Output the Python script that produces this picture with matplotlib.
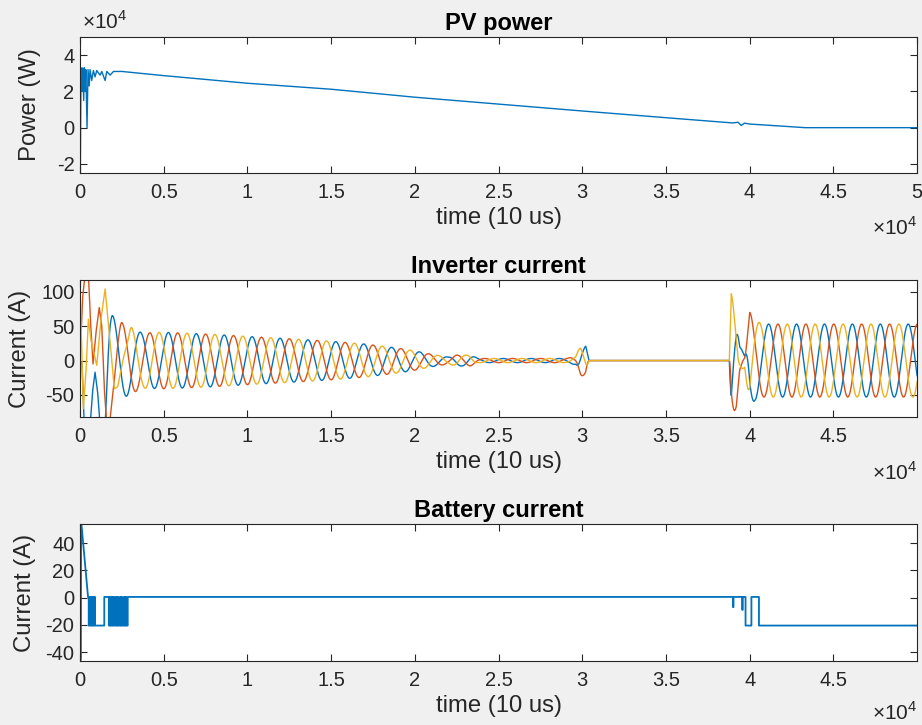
import numpy as np
import matplotlib
matplotlib.use('Agg')
import matplotlib.pyplot as plt
from matplotlib.ticker import FuncFormatter

plt.rcParams['font.family'] = ['Liberation Sans', 'DejaVu Sans']
plt.rcParams['mathtext.fontset'] = 'custom'
plt.rcParams['mathtext.rm'] = 'Liberation Sans'
plt.rcParams['axes.unicode_minus'] = False

# ---------------- data (time in units of 1e4 samples of 10 us) ----------------
# PV power (units of 1e4 W)
pv_t = [0, 0.002, 0.006, 0.012, 0.016, 0.022, 0.026, 0.03, 0.035, 0.042, 0.048, 0.055,
        0.06, 0.07, 0.08, 0.09, 0.10, 0.12, 0.13, 0.15, 0.16, 0.18, 0.20, 0.25, 0.5,
        1.0, 1.5, 2.0, 2.5, 3.0, 3.23, 3.5, 3.9, 3.93, 3.95, 3.97, 4.0, 4.3, 4.33, 5.0]
pv_p = [3.6, -2.6, 3.3, 2.0, 3.3, 1.5, 3.3, 2.0, 3.2, 0.0, 3.2, 2.3,
        3.2, 2.6, 3.15, 2.8, 3.15, 2.9, 3.1, 2.6, 3.1, 2.9, 3.1, 3.1, 2.87,
        2.45, 2.12, 1.68, 1.3, 0.92, 0.75, 0.55, 0.26, 0.3, 0.12, 0.25, 0.2, 0.02, 0.0, 0.0]

# Inverter current: 60 Hz three-phase, amplitude envelope
period = 0.1667           # one grid cycle (x 1e4 samples)
phase_ref_1 = 0.028       # first peak of phase A before disconnection
phase_ref_2 = 4.113       # first peak of phase A after reconnection
switch_t = 3.5
env_t = [0, 0.19, 0.25, 0.31, 0.37, 0.5, 0.8, 1.0, 1.3, 1.5, 1.7, 1.9, 2.0, 2.1, 2.2,
         2.25, 2.33, 2.38, 2.9, 2.96, 2.99, 3.02, 3.04, 3.878, 3.89, 3.92, 3.94, 3.97,
         4.0, 4.03, 4.08, 5.0]
env_a = [66, 66, 55, 48, 40, 41, 38, 35, 31, 28, 24, 18, 14, 9, 5,
         8, 8, 3, 3, 6, 22, 22, 0, 0, 97, 66, 20, 10,
         70, 58, 53, 53]
# start-up transient of each phase
ia_start_t = [0, 0.012, 0.025, 0.06, 0.075, 0.09, 0.105, 0.12, 0.15, 0.165, 0.18, 0.194]
ia_start_v = [0, -5, -95, -95, -45, -17, -45, -95, -95, -10, 45, 66]
ib_start_t = [0, 0.015, 0.03, 0.05, 0.062, 0.078, 0.095, 0.115, 0.13, 0.145, 0.16, 0.175,
              0.2, 0.225, 0.25]
ib_start_v = [0, 90, 125, 125, 60, -5, 40, 77, 50, -40, -95, -95, -40, 20, 55]
ic_start_t = [0, 0.008, 0.02, 0.035, 0.05, 0.065, 0.1, 0.125, 0.15, 0.175, 0.205, 0.225,
              0.26, 0.31]
ic_start_v = [100, 40, -70, -20, 60, 30, -7, 60, 104, 40, -41, -38, 5, 48]

# Battery current (A)
bat_init_t = [0, 0.003, 0.007, 0.048]
bat_init_v = [54, -46, 56, 0.5]
bat_hi = 0.5
bat_lo = -20.5
bat_low_start = [0.052, 0.062, 0.072, 0.080, 0.090, 0.172, 0.182, 0.194, 0.205, 0.218,
                 0.228, 0.242, 0.252, 0.266, 0.276, 3.975, 4.055]
bat_low_end = [0.058, 0.068, 0.076, 0.085, 0.145, 0.178, 0.190, 0.200, 0.214, 0.224,
               0.238, 0.248, 0.262, 0.272, 0.285, 4.010, 5.0]
bat_dip_t = [3.900, 3.955]
bat_dip_v = [-7, -9]

# ---------------- build traces ----------------
t = np.arange(0, 50000, 5.0)
tu = t / 1e4
env = np.interp(tu, env_t, env_a)
ref = np.where(tu < switch_t, phase_ref_1, phase_ref_2)
phases = []
for k, (kt, kv) in enumerate([(ia_start_t, ia_start_v), (ib_start_t, ib_start_v),
                              (ic_start_t, ic_start_v)]):
    wave = env * np.cos(2 * np.pi * (tu - ref - k * period / 3) / period)
    kt = np.asarray(kt)
    trans = np.interp(tu, kt, kv)
    w = np.clip((tu - (kt[-1] - 0.03)) / 0.03, 0, 1)
    phases.append((1 - w) * trans + w * wave)

bt = list(bat_init_t)
bv = list(bat_init_v)
events = []
for s, e in zip(bat_low_start, bat_low_end):
    events.append((s, 'low', e))
for d, v in zip(bat_dip_t, bat_dip_v):
    events.append((d, 'dip', v))
events.sort()
for ev in events:
    if ev[1] == 'low':
        s, _, e = ev
        bt += [s, s, e]
        bv += [bat_hi, bat_lo, bat_lo]
        if e < 5.0:
            bt.append(e)
            bv.append(bat_hi)
    else:
        d, _, v = ev
        bt += [d, d, d + 0.003, d + 0.003]
        bv += [bat_hi, v, v, bat_hi]
bt = np.array(bt) * 1e4
bv = np.array(bv)

# ---------------- plotting ----------------
BG = '#f0f0f0'
AX = '#262626'
C = ['#0072BD', '#D95319', '#EDB120']
TICK_FS = 14.5
LAB_FS = 17.2
EXP_FS = 15

fig = plt.figure(figsize=(9.22, 7.25), dpi=100, facecolor=BG)
W = 837 / 922
L = 80 / 922
ax1 = fig.add_axes([L, 1 - 173 / 725, W, 136 / 725])
ax2 = fig.add_axes([L, 1 - 417 / 725, W, 137 / 725])
ax3 = fig.add_axes([L, 1 - 661 / 725, W, 137 / 725])

fmt = FuncFormatter(lambda v, p: f'{v / 1e4:g}')

def style(ax, title, ylabel, ylab_x, exp_y=-0.30):
    ax.set_facecolor('white')
    for s in ax.spines.values():
        s.set_color(AX)
        s.set_linewidth(0.8)
    ax.tick_params(direction='in', length=5, width=0.8, top=True, right=True,
                   colors=AX, labelsize=TICK_FS, pad=7)
    ax.tick_params(axis='y', pad=4)
    ax.set_title(title, fontsize=17, fontweight='bold', color='black', pad=5)
    ax.set_xlabel('time (10 us)', fontsize=LAB_FS, color=AX, labelpad=4)
    ax.set_ylabel(ylabel, fontsize=LAB_FS, color=AX)
    ax.yaxis.set_label_coords(ylab_x, 0.5)
    ax.xaxis.set_major_formatter(fmt)
    ax.text(1.0, exp_y, r'$\times$10$^{4}$', transform=ax.transAxes, ha='right',
            va='top', fontsize=EXP_FS, color=AX)

# PV power
ax1.plot(np.array(pv_t) * 1e4, np.array(pv_p) * 1e4, color=C[0], lw=1.0)
ax1.set_xlim(0, 50000)
ax1.set_ylim(-2.5e4, 5e4)
ax1.set_xticks(np.arange(0, 50001, 5000))
ax1.set_yticks([-2e4, 0, 2e4, 4e4])
ax1.yaxis.set_major_formatter(fmt)
style(ax1, 'PV power', 'Power (W)', -0.046, -0.32)
ax1.text(0.002, 1.03, r'$\times$10$^{4}$', transform=ax1.transAxes, ha='left',
         va='bottom', fontsize=EXP_FS, color=AX)

# Inverter current
for w, c in zip(phases, C):
    ax2.plot(t, w, color=c, lw=1.0)
ax2.set_xlim(0, 49990)
ax2.set_ylim(-82, 117)
ax2.set_xticks(np.arange(0, 49991, 5000))
ax2.set_yticks([-50, 0, 50, 100])
style(ax2, 'Inverter current', 'Current (A)', -0.058, -0.32)

# Battery current
ax3.plot(bt, bv, color=C[0], lw=1.3)
ax3.set_xlim(0, 49990)
ax3.set_ylim(-46.5, 54)
ax3.set_xticks(np.arange(0, 49991, 5000))
ax3.set_yticks([-40, -20, 0, 20, 40])
style(ax3, 'Battery current', 'Current (A)', -0.052, -0.295)

fig.savefig('out.png', dpi=100, facecolor=BG)
